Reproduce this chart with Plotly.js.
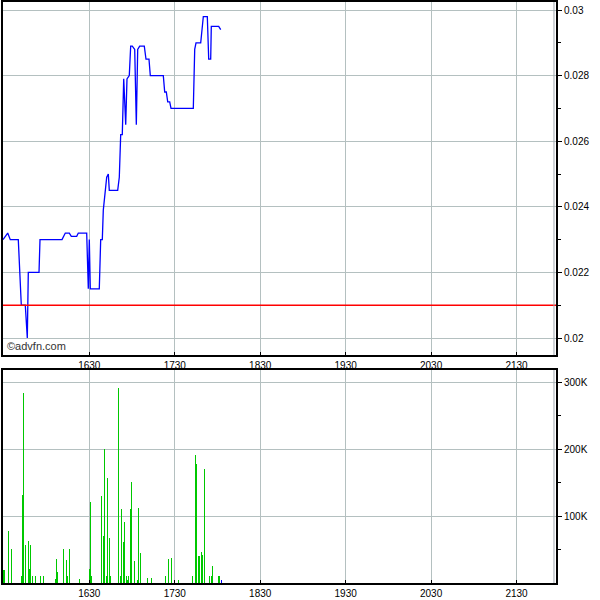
<!DOCTYPE html>
<html>
<head>
<meta charset="utf-8">
<script src="https://cdn.plot.ly/plotly-3.0.1.min.js"></script>
<style>html,body{margin:0;padding:0;background:#fff;}#chart{width:600px;height:600px;}</style>
</head>
<body>
<div id="chart"></div>
<script>
// ---- data ----
var priceTimes = ["15:29:24","15:32:42","15:34:31","15:40:08","15:42:15","15:45:03","15:46:28","15:47:10","15:54:41","15:55:23",
  "16:10:50","16:11:44","16:13:09","16:15:58","16:17:22","16:21:09","16:22:17","16:28:10","16:29:18","16:30:00",
  "16:30:42","16:37:01","16:38:00","16:39:08","16:39:50","16:42:13","16:43:21","16:44:02","16:49:56","16:51:04",
  "16:52:03","16:53:10","16:54:10","16:55:34","16:56:28","16:58:05","16:59:04","17:00:12","17:01:53","17:03:01",
  "17:03:59","17:05:23","17:08:37","17:09:49","17:11:55","17:12:50","17:21:58","17:22:57","17:24:04","17:25:04",
  "17:26:28","17:27:22","17:43:02","17:44:01","17:44:56","17:48:14","17:50:04","17:52:52","17:53:51","17:55:15",
  "17:55:40","18:00:52","18:02:17"];
var priceValues = [0.0230,0.0232,0.0230,0.0230,0.0210,0.0210,0.0200,0.0220,0.0220,0.0230,
  0.0230,0.0231,0.0232,0.0232,0.0231,0.0231,0.0232,0.0232,0.0215,0.0230,
  0.0215,0.0215,0.0230,0.0230,0.0239,0.0249,0.0250,0.0245,0.0245,0.0249,
  0.0262,0.0262,0.0279,0.0265,0.0279,0.0280,0.0289,0.0289,0.0288,0.0265,
  0.0288,0.0289,0.0289,0.0285,0.0285,0.0280,0.0280,0.0275,0.0275,0.0272,
  0.0272,0.0270,0.0270,0.0288,0.0290,0.0290,0.0298,0.0298,0.0285,0.0285,
  0.0295,0.0295,0.0294];
var prevClose = 0.021;

var volumeTimes = ["15:30:06","15:33:07","15:35:13","15:42:15","15:42:57","15:43:39","15:45:03","15:47:10","15:47:52","15:48:34",
  "15:49:58","15:52:05","15:55:35","15:57:42","16:06:07","16:06:50","16:07:32","16:11:44","16:13:51","16:14:33",
  "16:15:58","16:22:59","16:30:00","16:30:42","16:31:24","16:38:26","16:39:50","16:40:32","16:41:56","16:42:38",
  "16:44:02","16:44:45","16:50:22","16:51:46","16:52:28","16:53:53","16:54:35","16:55:59","16:56:41","16:57:23",
  "16:58:47","16:59:29","17:01:36","17:03:43","17:04:25","17:05:49","17:10:44","17:13:32","17:23:22","17:25:29",
  "17:27:35","17:32:30","17:42:20","17:44:26","17:45:08","17:46:33","17:47:15","17:48:39","17:49:21","17:50:46",
  "17:54:16","17:55:40","17:56:23","18:00:35","18:01:17","18:02:42"];
var volumeValues = [20000,77000,51000,11000,132000,284000,57000,63000,21000,57000,
  11000,11000,11000,11000,6000,36000,17000,51000,35000,11000,
  51000,6000,21000,121000,11000,130000,70000,200000,11000,157000,
  68000,11000,291000,11000,111000,62000,91000,10000,5000,11000,
  111000,151000,33000,5000,112000,45000,8000,8000,11000,36000,
  38000,4000,10000,191000,178000,41000,41000,47000,42000,171000,
  11000,10000,26000,11000,11000,5000];

var xTickLabels = ["1630","1730","1830","1930","2030","2130"];
var priceTickVals = [0.02,0.022,0.024,0.026,0.028,0.03];
var volTickVals = [100000,200000,300000];
var volTickText = ["100K","200K","300K"];

// ---- helpers ----
var DAY = "2024-01-01 ";
function d(t){ return DAY + t; }
var xTickVals = xTickLabels.map(function(s){ return d(s.slice(0,2)+":"+s.slice(2)+":00"); });
var xRange = [d("15:29:24"), d("21:57:43")];
var markerLine = d("21:56:18");

var GRID = "#b4c0c0";
var FONT = {family:"Liberation Sans, Arial, sans-serif", size:10, color:"#000"};

var barColors = volumeValues.map(function(v,i){ return i === volumeValues.length-1 ? "#0000ff" : "#00c800"; });

var traces = [
  {type:"scatter", mode:"lines", x:priceTimes.map(d), y:priceValues, xaxis:"x", yaxis:"y",
   line:{color:"#0000ff", width:1.3}, hoverinfo:"skip"},
  {type:"bar", x:volumeTimes.map(d), y:volumeValues, xaxis:"x2", yaxis:"y2",
   width:45000, marker:{color:barColors, line:{width:0}}, hoverinfo:"skip"}
];

var xCommon = {type:"date", range:xRange, tickmode:"array", tickvals:xTickVals, ticktext:xTickLabels,
  showgrid:true, gridcolor:GRID, gridwidth:1, ticks:"inside", ticklen:3, tickcolor:"#000",
  showline:true, linecolor:"#000", linewidth:2, mirror:true, zeroline:false, tickfont:FONT, fixedrange:true};

var layout = {
  width:600, height:600, margin:{l:3, r:44, t:2, b:17},
  paper_bgcolor:"#fff", plot_bgcolor:"#fff", showlegend:false, font:FONT, bargap:0,
  xaxis: Object.assign({}, xCommon, {anchor:"y"}),
  xaxis2: Object.assign({}, xCommon, {anchor:"y2", matches:"x"}),
  yaxis: {domain:[0.3924,1], range:[0.019482,0.030244], side:"right", anchor:"x",
    tickmode:"array", tickvals:priceTickVals, showgrid:true, gridcolor:GRID, gridwidth:1,
    ticks:"outside", ticklen:4, tickcolor:"#000", showline:true, linecolor:"#000", linewidth:2, mirror:true,
    zeroline:false, tickfont:FONT,
    minor:{tickmode:"linear", tick0:0.019, dtick:0.002, ticks:"outside", ticklen:3, tickcolor:"#000", showgrid:false}},
  yaxis2: {domain:[0,0.3666], range:[0,318400], side:"right", anchor:"x2",
    tickmode:"array", tickvals:volTickVals, ticktext:volTickText, showgrid:true, gridcolor:GRID, gridwidth:1,
    ticks:"outside", ticklen:4, tickcolor:"#000", showline:true, linecolor:"#000", linewidth:2, mirror:true,
    zeroline:false, tickfont:FONT,
    minor:{tickmode:"linear", tick0:50000, dtick:100000, ticks:"outside", ticklen:3, tickcolor:"#000", showgrid:false}},
  shapes:[
    {type:"line", xref:"x domain", yref:"y", x0:0, x1:1, y0:prevClose, y1:prevClose, line:{color:"#ff0000", width:1.5}},
    {type:"line", xref:"x", yref:"y domain", x0:markerLine, x1:markerLine, y0:0, y1:1, line:{color:"#a0a8b0", width:1}},
    {type:"line", xref:"x2", yref:"y2 domain", x0:markerLine, x1:markerLine, y0:0, y1:1, line:{color:"#a0a8b0", width:1}}
  ],
  annotations:[
    {text:"©advfn.com", xref:"x domain", yref:"y domain", x:0.004, y:0.004, xanchor:"left", yanchor:"bottom",
     showarrow:false, font:{family:"Liberation Sans, Arial, sans-serif", size:11, color:"#333"}}
  ]
};

Plotly.newPlot("chart", traces, layout, {staticPlot:true, displayModeBar:false});
</script>
</body>
</html>
